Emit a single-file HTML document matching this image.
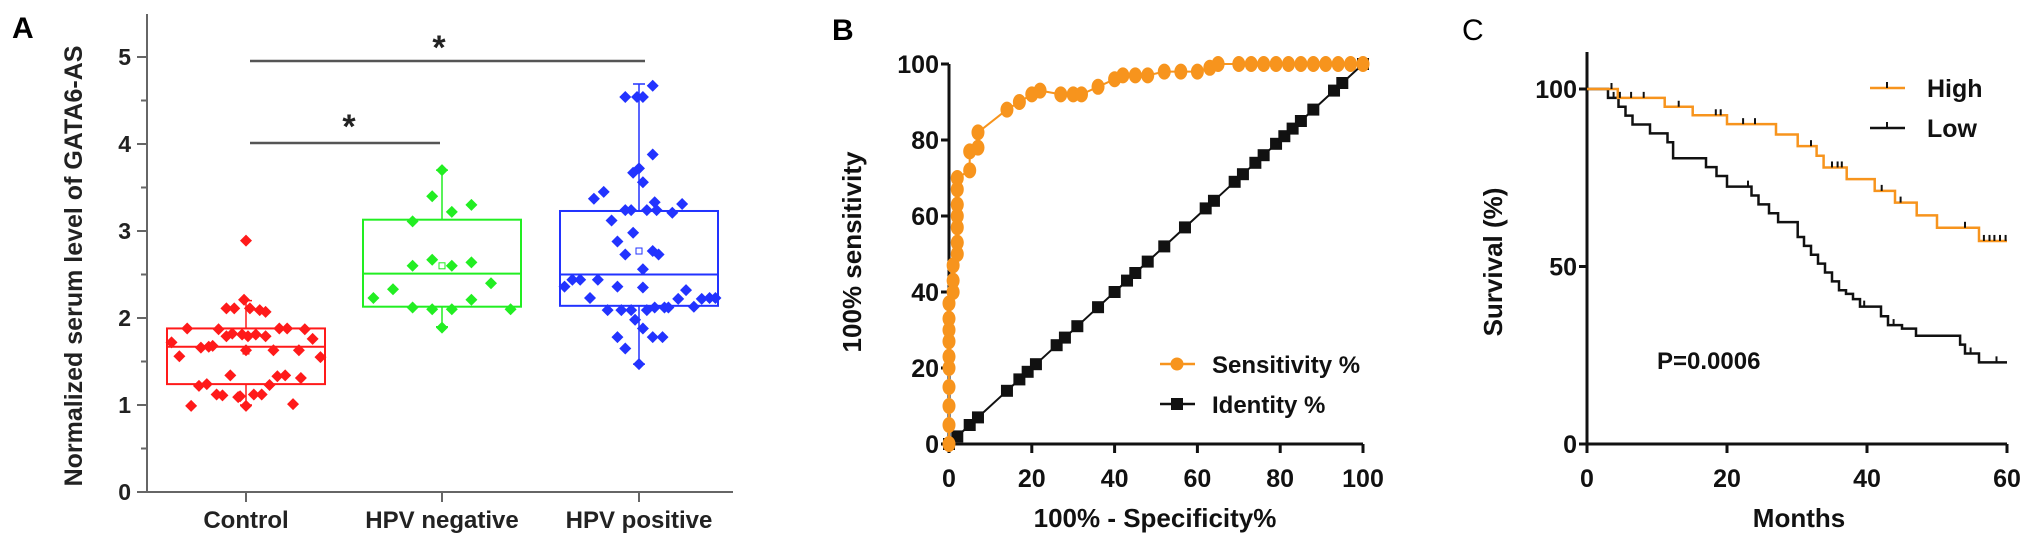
<!DOCTYPE html>
<html><head><meta charset="utf-8"><style>
html,body{margin:0;padding:0;background:#fff;}
svg{display:block;font-family:"Liberation Sans",Arial,sans-serif;font-weight:bold;}
</style></head><body>
<svg id="fig" width="2031" height="546" viewBox="0 0 2031 546">
<g id="pa"></g>
<g id="pb"></g>
<g id="pc"></g>
</svg>
<script>
// ---------- Panel A data ----------
const catA = ["Control","HPV negative","HPV positive"];
const yTicksA = [0,1,2,3,4,5];
const ctrlVals = [1.72,1.56,1.88,0.99,1.22,1.66,1.24,1.67,1.68,1.12,1.87,1.11,1.79,2.11,1.34,1.82,2.11,1.09,1.10,1.81,2.21,1.63,0.99,1.79,2.11,1.12,1.81,2.09,1.12,1.79,2.07,1.23,1.63,1.33,1.88,1.34,1.88,1.01,1.63,1.31,1.87,1.76,1.55,2.89];
const ctrlJit = [-0.38,-0.34,-0.30,-0.28,-0.24,-0.23,-0.20,-0.19,-0.17,-0.15,-0.14,-0.12,-0.10,-0.10,-0.08,-0.07,-0.06,-0.04,-0.03,-0.02,-0.01,0.00,0.00,0.01,0.02,0.04,0.05,0.07,0.08,0.10,0.10,0.12,0.14,0.16,0.17,0.20,0.21,0.24,0.27,0.28,0.30,0.34,0.38,0.00];
const negVals = [2.23,2.33,3.11,2.12,3.40,2.67,2.10,3.70,1.89,3.22,2.10,2.60,2.60,3.30,2.64,2.21,2.40,2.10];
const negJit = [-0.35,-0.25,-0.15,-0.15,-0.05,-0.05,-0.05,0,0,0.05,0.05,-0.15,0.05,0.15,0.15,0.15,0.25,0.35];
const posVals = [2.36,2.44,2.44,2.23,3.37,2.44,3.45,2.09,3.12,2.88,2.36,1.78,2.09,3.24,2.73,1.65,4.54,2.09,3.24,2.98,3.67,1.98,4.54,1.47,3.72,2.56,2.35,1.88,3.56,4.54,3.24,2.09,3.88,2.77,1.78,4.67,3.33,2.12,3.24,2.73,1.78,2.12,2.12,3.21,2.22,3.31,2.32,2.13,2.22,2.23,2.23];
const posJit = [-0.38,-0.34,-0.30,-0.25,-0.23,-0.21,-0.18,-0.16,-0.14,-0.11,-0.11,-0.11,-0.09,-0.07,-0.07,-0.07,-0.07,-0.04,-0.04,-0.03,-0.03,-0.02,-0.01,0,0,0.02,0.02,0.02,0.02,0.02,0.04,0.04,0.07,0.07,0.07,0.07,0.08,0.08,0.09,0.10,0.12,0.13,0.15,0.17,0.20,0.22,0.24,0.28,0.32,0.36,0.39];
const boxCtrl = [1.0,1.24,1.67,1.88,2.2,1.62];
const boxNeg = [1.9,2.13,2.51,3.13,3.7,2.6];
const boxPos = [1.47,2.14,2.5,3.23,4.69,2.77];

// ---------- Panel B data ----------
const xTicksB = [0,20,40,60,80,100];
const yTicksB = [0,20,40,60,80,100];
const rocFpr = [0,0,0,0,0,0,0,0,0,0,1,1,1,2,2,2,2,2,2,2,5,5,7,7,14,17,20,22,27,30,32,36,40,42,45,48,52,56,60,63,65,70,73,76,79,82,85,88,91,94,97,100];
const rocTpr = [0,5,10,15,20,23,27,30,33,37,40,43,47,50,53,57,60,63,67,70,72,77,78,82,88,90,92,93,92,92,92,94,96,97,97,97,98,98,98,99,100,100,100,100,100,100,100,100,100,100,100,100];
const idVals = [0,2,5,7,14,17,19,21,26,28,31,36,40,43,45,48,52,57,62,64,69,71,74,76,79,81,83,85,88,93,95,100];

// ---------- Panel C data ----------
const xTicksC = [0,20,40,60];
const yTicksC = [0,50,100];
const highT = [0,4.4,11.1,15.1,20,27,30.1,32.8,33.8,37.1,41.1,44,47.1,50,56,60];
const highS = [100,97.5,95,92.6,90.1,87.2,83.9,81.2,77.9,74.6,71.3,68,64.4,60.9,57.2,57.2];
const highCens = [3.5,4.7,6.3,8.1,13.1,18.4,19.1,22.3,24,32,35,35.8,36.4,42.1,44.8,54,56.7,57.5,58.2,59,59.8];
const lowT = [0,3,4.5,5.5,6.5,9,11.5,12.3,17,18.5,20,23.5,24.5,26,27.3,30.1,31,32,33,34,35,36,37,38,39,40,42,43,45,47,52.5,53.3,54,56,60];
const lowS = [100,97.5,95,92.5,90,87.5,85,80.5,78,75.5,72.5,70,67.5,65,62.5,58.3,55.8,53.3,50.8,48.3,45.8,43.3,42.3,40.8,38.7,38.7,36,33.5,32.5,30.5,30.5,28,25.5,23,23];
const lowCens = [3.8,23,39.6,43.8,54.8,58.5];

const NS='http://www.w3.org/2000/svg';
function mk(parent,tag,attrs,txt){const e=document.createElementNS(NS,tag);for(const k in attrs)e.setAttribute(k,attrs[k]);if(txt!==undefined)e.textContent=txt;parent.appendChild(e);return e;}

// ===== Panel A =====
(function(){
const g=document.getElementById('pa');
const x0=147,xEnd=733,catX=[246,442,639],ys=v=>492-v*87;
let t=mk(g,'text',{x:12,y:38,'font-size':30},'A');

let ax=mk(g,'path',{d:`M${x0},14V492H${xEnd}`,stroke:'#666',fill:'none','stroke-width':2});

yTicksA.forEach(v=>{
 let l=mk(g,'line',{x1:x0-10,x2:x0,y1:ys(v),y2:ys(v),stroke:'#666','stroke-width':2});
 
 let tx=mk(g,'text',{x:x0-16,y:ys(v)+8,'text-anchor':'end','font-size':23,fill:'#222'},String(v));
 
 if(v<5){let m=mk(g,'line',{x1:x0-6,x2:x0,y1:ys(v+0.5),y2:ys(v+0.5),stroke:'#666','stroke-width':2});
 }
});
catA.forEach((c,i)=>{
 let l=mk(g,'line',{x1:catX[i],x2:catX[i],y1:492,y2:502,stroke:'#666','stroke-width':2});
 
 let tx=mk(g,'text',{x:catX[i],y:528,'text-anchor':'middle','font-size':24,fill:'#222'},c);
 
});
let yt=mk(g,'text',{x:0,y:0,transform:'translate(82,266) rotate(-90)','text-anchor':'middle','font-size':25,fill:'#222'},'Normalized serum level of GATA6-AS');

[[250,645,61,439,45],[250,440,143,349,124]].forEach(s=>{
 let l=mk(g,'line',{x1:s[0],x2:s[1],y1:s[2],y2:s[2],stroke:'#555','stroke-width':2.5});
 
 let st=mk(g,'text',{x:s[3],y:s[4]+14,'text-anchor':'middle','font-size':34,fill:'#222'},'*');
 
});
const groups=[[ctrlVals,ctrlJit,boxCtrl,'#ff1a1a'],[negVals,negJit,boxNeg,'#22ee22'],[posVals,posJit,boxPos,'#2233ff']];
const names=['control','hpv-negative','hpv-positive'];
groups.forEach((gr,i)=>{
 const cx=catX[i],hw=79,col=gr[3],b=gr[2];
 let w=mk(g,'path',{d:`M${cx},${ys(b[0])}V${ys(b[1])}M${cx},${ys(b[3])}V${ys(b[4])}M${cx-6},${ys(b[0])}H${cx+6}M${cx-6},${ys(b[4])}H${cx+6}`,stroke:col,'stroke-width':1.5,fill:'none'});
 
 let r=mk(g,'rect',{x:cx-hw,y:ys(b[3]),width:2*hw,height:ys(b[1])-ys(b[3]),fill:'none',stroke:col,'stroke-width':2});
 
 let md=mk(g,'line',{x1:cx-hw,x2:cx+hw,y1:ys(b[2]),y2:ys(b[2]),stroke:col,'stroke-width':2});
 
 let mn=mk(g,'rect',{x:cx-3,y:ys(b[5])-3,width:6,height:6,fill:'none',stroke:col,'stroke-width':1});
 
 gr[0].forEach((v,k)=>{
  const px=cx+gr[1][k]*196,py=ys(v);
  let d=mk(g,'path',{d:`M${px},${py-6}L${px+6},${py}L${px},${py+6}L${px-6},${py}Z`,fill:col});
  
 });
});
})();

// ===== Panel B =====
(function(){
const g=document.getElementById('pb');
const xs=v=>949+v*4.14,ys=v=>444-v*3.8;
let t=mk(g,'text',{x:832,y:40,'font-size':30},'B');

let ax=mk(g,'path',{d:`M${xs(0)},${ys(100)}V${ys(0)}H${xs(100)}`,stroke:'#111',fill:'none','stroke-width':3});

yTicksB.forEach(v=>{
 let l=mk(g,'line',{x1:xs(0)-8,x2:xs(0),y1:ys(v),y2:ys(v),stroke:'#111','stroke-width':3});
 
 let tx=mk(g,'text',{x:xs(0)-10,y:ys(v)+9,'text-anchor':'end','font-size':25,fill:'#111'},String(v));
 
});
xTicksB.forEach(v=>{
 let l=mk(g,'line',{x1:xs(v),x2:xs(v),y1:ys(0),y2:ys(0)+9,stroke:'#111','stroke-width':3});
 
 let tx=mk(g,'text',{x:xs(v),y:487,'text-anchor':'middle','font-size':25,fill:'#111'},String(v));
 
});
let xt=mk(g,'text',{x:1155,y:527,'text-anchor':'middle','font-size':26,fill:'#111'},'100% - Specificity%');

let yt=mk(g,'text',{x:0,y:0,transform:'translate(861,252) rotate(-90)','text-anchor':'middle','font-size':26,fill:'#111'},'100% sensitivity');

let il=mk(g,'polyline',{points:idVals.map(v=>xs(v)+','+ys(v)).join(' '),fill:'none',stroke:'#111','stroke-width':2});

idVals.forEach(v=>{let s=mk(g,'rect',{x:xs(v)-6,y:ys(v)-6,width:12,height:12,fill:'#111'});
 });
let rl=mk(g,'polyline',{points:rocFpr.map((v,i)=>xs(v)+','+ys(rocTpr[i])).join(' '),fill:'none',stroke:'#f7941d','stroke-width':2});

rocFpr.forEach((v,i)=>{let c=mk(g,'ellipse',{cx:xs(v),cy:ys(rocTpr[i]),rx:6.5,ry:8,fill:'#f7941d'});
 });
let lg=mk(g,'g',{});
mk(lg,'line',{x1:1160,x2:1195,y1:364,y2:364,stroke:'#f7941d','stroke-width':2.5});
mk(lg,'circle',{cx:1177,cy:364,r:6.5,fill:'#f7941d'});
let l1=mk(lg,'text',{x:1212,y:373,'font-size':24,fill:'#111'},'Sensitivity %');

mk(lg,'line',{x1:1160,x2:1195,y1:404,y2:404,stroke:'#111','stroke-width':2.5});
mk(lg,'rect',{x:1171,y:398,width:12,height:12,fill:'#111'});
let l2=mk(lg,'text',{x:1212,y:413,'font-size':24,fill:'#111'},'Identity %');

})();

// ===== Panel C =====
(function(){
const g=document.getElementById('pc');
const xs=v=>1587+v*7.0,ys=v=>444-v*3.55;
let t=mk(g,'text',{x:1462,y:40,'font-size':30,'font-weight':'normal'},'C');

let ax=mk(g,'path',{d:`M${xs(0)},52V${ys(0)}H${xs(60)}`,stroke:'#111',fill:'none','stroke-width':3});

yTicksC.forEach(v=>{
 let l=mk(g,'line',{x1:xs(0)-8,x2:xs(0),y1:ys(v),y2:ys(v),stroke:'#111','stroke-width':3});
 
 let tx=mk(g,'text',{x:xs(0)-10,y:ys(v)+9,'text-anchor':'end','font-size':25,fill:'#111'},String(v));
 
});
xTicksC.forEach(v=>{
 let l=mk(g,'line',{x1:xs(v),x2:xs(v),y1:ys(0),y2:ys(0)+9,stroke:'#111','stroke-width':3});
 
 let tx=mk(g,'text',{x:xs(v),y:487,'text-anchor':'middle','font-size':25,fill:'#111'},String(v));
 
});
let xt=mk(g,'text',{x:1799,y:527,'text-anchor':'middle','font-size':26,fill:'#111'},'Months');

let yt=mk(g,'text',{x:0,y:0,transform:'translate(1502,262) rotate(-90)','text-anchor':'middle','font-size':26,fill:'#111'},'Survival (%)');

let pv=mk(g,'text',{x:1657,y:369,'font-size':24,fill:'#111'},'P=0.0006');

function step(T,S){let d=`M${xs(T[0])},${ys(S[0])}`;for(let i=1;i<T.length;i++){d+=`H${xs(T[i])}V${ys(S[i])}`;}return d;}
function levelAt(T,S,m){let s=S[0];for(let i=0;i<T.length;i++){if(T[i]<=m)s=S[i];}return s;}
[[lowT,lowS,lowCens,'#111','low'],[highT,highS,highCens,'#f7941d','high']].forEach(c=>{
 let p=mk(g,'path',{d:step(c[0],c[1]),fill:'none',stroke:c[3],'stroke-width':2.5});
 
 c[2].forEach(m=>{const y=ys(levelAt(c[0],c[1],m));
  let k=mk(g,'line',{x1:xs(m),x2:xs(m),y1:y,y2:y-6,stroke:'#111','stroke-width':2});
  });
});
let lg=mk(g,'g',{});
mk(lg,'line',{x1:1870,x2:1905,y1:88,y2:88,stroke:'#f7941d','stroke-width':2.5});
mk(lg,'line',{x1:1887,x2:1887,y1:88,y2:82,stroke:'#111','stroke-width':2});
let l1=mk(lg,'text',{x:1927,y:97,'font-size':25,fill:'#111'},'High');

mk(lg,'line',{x1:1870,x2:1905,y1:128,y2:128,stroke:'#111','stroke-width':2.5});
mk(lg,'line',{x1:1887,x2:1887,y1:128,y2:122,stroke:'#111','stroke-width':2});
let l2=mk(lg,'text',{x:1927,y:137,'font-size':25,fill:'#111'},'Low');

})();
</script>
</body></html>
